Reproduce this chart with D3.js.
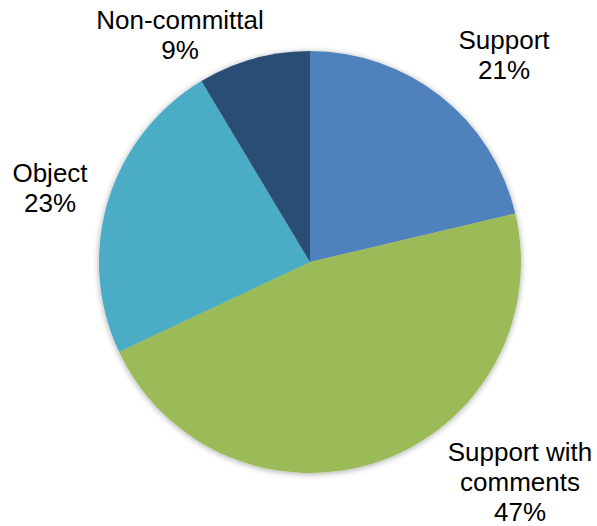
<!DOCTYPE html>
<html>
<head>
<meta charset="utf-8">
<script src="https://cdn.jsdelivr.net/npm/d3@7"></script>
<style>
  html, body { margin: 0; padding: 0; background: #ffffff; }
  svg { display: block; }
  text { font-family: "Liberation Sans", Arial, sans-serif; font-size: 26px; fill: #000; }
</style>
</head>
<body>
<svg id="chart" width="597" height="526"></svg>
<script>
const categories = ["Support", "Support with comments", "Object", "Non-committal"];
const values = [21.3, 46.7, 23.4, 8.6];
const colors = ["#4F81BD", "#9BBB59", "#4BACC6", "#2C4D75"];
const labelLines = [["Support"], ["Support with", "comments"], ["Object"], ["Non-committal"]];

const width = 597, height = 526;
const cx = 310, cy = 262, radius = 211;
// label anchors (x center, first baseline) chosen to match the reference layout
const labelAnchors = [[504, 49], [520, 461], [50, 182], [180, 29]];
const lineGap = 30;

const svg = d3.select("#chart");
const defs = svg.append("defs");
const f = defs.append("filter").attr("id", "shadow").attr("x", "-10%").attr("y", "-10%").attr("width", "120%").attr("height", "120%");
f.append("feGaussianBlur").attr("in", "SourceAlpha").attr("stdDeviation", 3);
f.append("feOffset").attr("dx", 0).attr("dy", 1).attr("result", "b");
f.append("feComponentTransfer").append("feFuncA").attr("type", "linear").attr("slope", 0.35);
const m = f.append("feMerge");
m.append("feMergeNode");
m.append("feMergeNode").attr("in", "SourceGraphic");

const data = categories.map((c, i) => ({ cat: c, value: values[i], color: colors[i], lines: labelLines[i] }));
const pie = d3.pie().sort(null).value(d => d.value);
const arc = d3.arc().innerRadius(0).outerRadius(radius);

const g = svg.append("g").attr("transform", `translate(${cx},${cy})`);
g.append("g").attr("filter", "url(#shadow)")
  .selectAll("path").data(pie(data)).join("path")
  .attr("d", arc)
  .attr("fill", d => d.data.color);

const total = d3.sum(values);
const fmt = d3.format(".0%");
data.forEach((d, i) => {
  const [x, y] = labelAnchors[i];
  const t = svg.append("text").attr("text-anchor", "middle");
  const lines = d.lines.concat([fmt(d.value / total)]);
  lines.forEach((ln, j) => {
    t.append("tspan").attr("x", x).attr("y", y + j * lineGap).text(ln);
  });
});
</script>
</body>
</html>
